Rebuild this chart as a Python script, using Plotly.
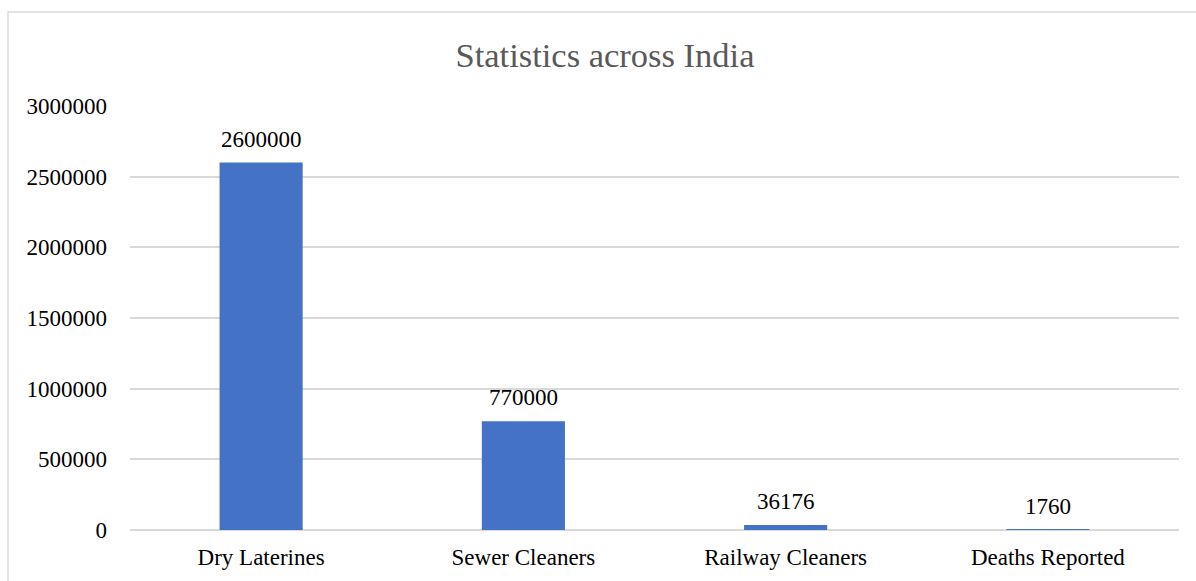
import plotly.graph_objects as go

categories = ["Dry Laterines", "Sewer Cleaners", "Railway Cleaners", "Deaths Reported"]
counts = [2600000, 770000, 36176, 1760]
y_ticks = [0, 500000, 1000000, 1500000, 2000000, 2500000, 3000000]

SERIF = "Liberation Serif, Times New Roman, serif"
BAR_BLUE = "#4472C4"
GRID = "#d9d9d9"

fig = go.Figure(
    go.Bar(
        x=categories,
        y=counts,
        marker=dict(color=BAR_BLUE, line=dict(width=0)),
        width=0.317,
        hoverinfo="x+y",
    )
)

# value labels above each bar
for cat, val in zip(categories, counts):
    fig.add_annotation(
        x=cat, y=val, text=str(val), showarrow=False,
        yanchor="bottom", yshift=9,
        font=dict(family=SERIF, size=23, color="#000000"),
    )

# outer chart frame
fig.add_shape(
    type="rect", xref="paper", yref="paper",
    x0=-0.1163, y0=-0.3, x1=1.1, y1=1.2217,
    line=dict(color=GRID, width=1.5), fillcolor="rgba(0,0,0,0)",
    layer="below",
)

fig.update_layout(
    width=1196, height=581,
    margin=dict(l=130, r=17, t=106, b=51),
    paper_bgcolor="white", plot_bgcolor="white",
    showlegend=False,
    title=dict(
        text="Statistics across India",
        x=605 / 1196, xanchor="center", y=1 - 55 / 581, yanchor="middle",
        font=dict(family=SERIF, size=34.5, color="#595959"),
    ),
    xaxis=dict(
        showgrid=False, showline=False, zeroline=False,
        ticks="", ticklabelstandoff=11, automargin=False,
        tickfont=dict(family=SERIF, size=23, color="#000000"),
    ),
    yaxis=dict(
        range=[0, 3000000], tickvals=y_ticks,
        ticktext=[str(v) for v in y_ticks],
        showgrid=True, gridcolor=GRID, gridwidth=1.5,
        zeroline=True, zerolinecolor=GRID, zerolinewidth=1.5,
        showline=False, ticks="", ticklabelstandoff=22, automargin=False,
        tickfont=dict(family=SERIF, size=23, color="#000000"),
    ),
)

fig.write_html("out.html")
